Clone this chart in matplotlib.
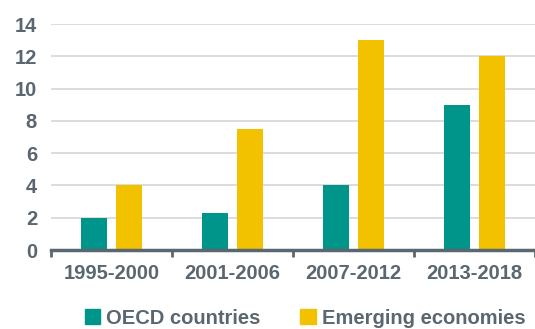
import matplotlib
matplotlib.use("Agg")
import matplotlib.pyplot as plt
import numpy as np
from matplotlib.patches import Patch

categories = ["1995-2000", "2001-2006", "2007-2012", "2013-2018"]
oecd = [2.0, 2.3, 4.0, 9.0]
emerging = [4.0, 7.5, 13.0, 12.0]
series_names = ["OECD countries", "Emerging economies"]
yticks = [0, 2, 4, 6, 8, 10, 12, 14]

teal = "#00958A"
yellow = "#F2C200"
txt = "#5A6770"
plt.rcParams['font.family'] = ['Liberation Sans', 'DejaVu Sans']
plt.rcParams['font.weight'] = 'bold'

fig = plt.figure(figsize=(5.35, 3.29), dpi=100)
ax = fig.add_axes([51/535, 79/329, 484/535, 226/329])

x = np.arange(len(categories))
w = 0.22
off = 0.145
ax.bar(x - off, oecd, w, color=teal, zorder=3)
ax.bar(x + off, emerging, w, color=yellow, zorder=3)

ax.set_xlim(-0.5, len(categories) - 0.5)
ax.set_ylim(0, 14)
ax.set_yticks(yticks)
ax.yaxis.grid(True, color="#D9D9D9", linewidth=1.3, zorder=0)
for s in ["top", "right", "left"]:
    ax.spines[s].set_visible(False)
ax.spines["bottom"].set_color(txt)
ax.spines["bottom"].set_linewidth(2.5)
ax.spines["bottom"].set_zorder(4)

ax.set_xticks(np.arange(-0.5, len(categories), 1.0))
ax.set_xticklabels([])
ax.tick_params(axis="x", length=5, width=2, color=txt, direction="out")
ax.set_xticks(x, minor=True)
ax.set_xticklabels(categories, minor=True, fontsize=14.5, fontweight="bold", color=txt)
ax.tick_params(axis="x", which="minor", length=0, pad=10)
ax.tick_params(axis="y", length=0, pad=10, labelsize=14.5, labelcolor=txt)

handles = [Patch(color=teal), Patch(color=yellow)]
fig.legend(handles, series_names, loc="center", bbox_to_anchor=(0.57, 11/329), ncol=2,
           frameon=False, prop={"size": 14.5, "weight": "bold"}, labelcolor=txt,
           handlelength=0.75, handleheight=0.75, handletextpad=0.3, columnspacing=2.0)

fig.savefig("out.png", dpi=100)
